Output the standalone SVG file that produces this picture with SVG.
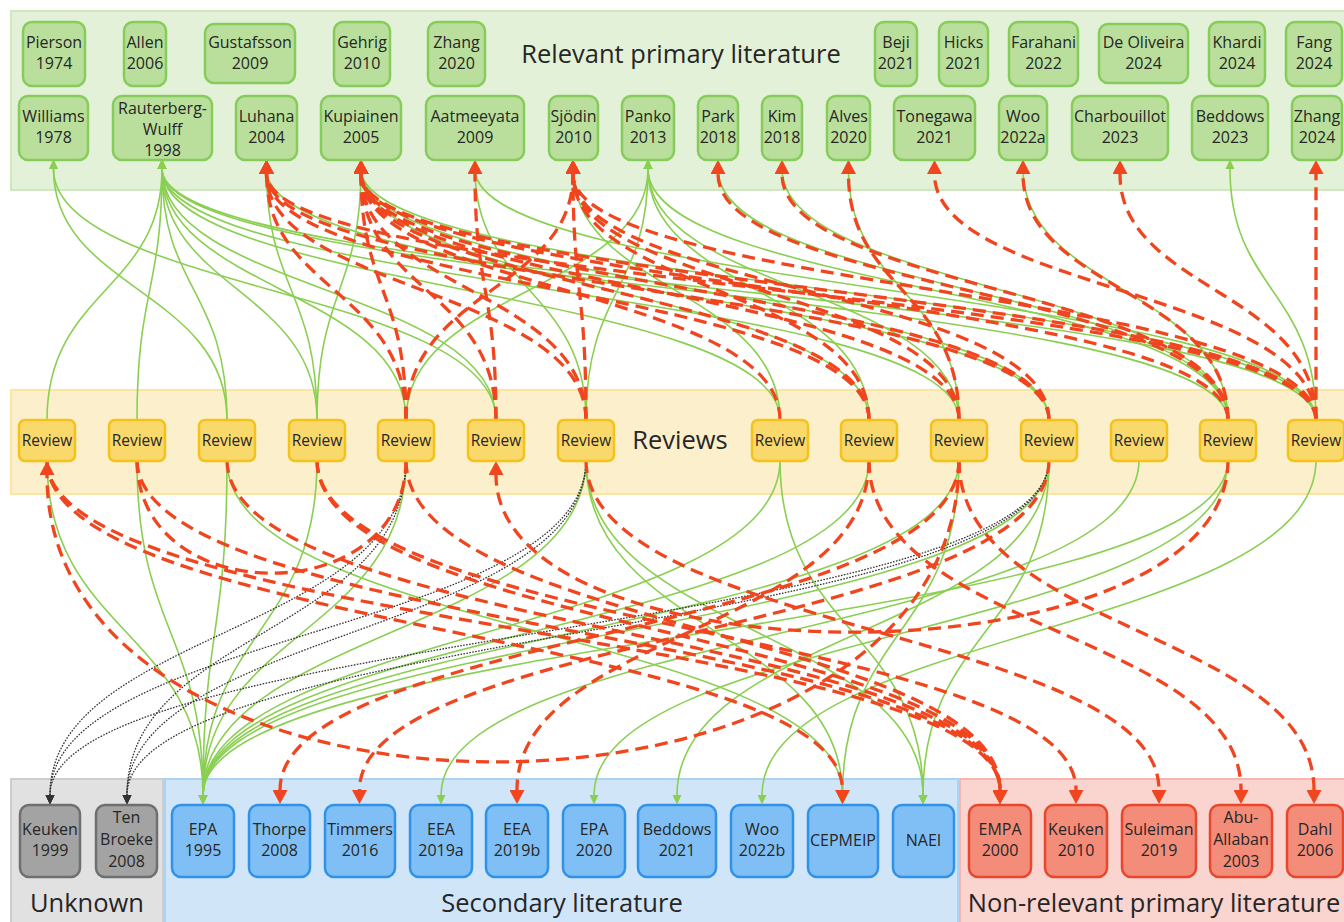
<svg xmlns="http://www.w3.org/2000/svg" width="1344" height="922" viewBox="0 0 1344 922">
  <style>
    text { font-family: "Open Sans", "Noto Sans", "DejaVu Sans", sans-serif; fill: #262626; text-anchor: middle; }
    .lbl { font-size: 16px; }
    .rv { font-size: 15.5px; }
    .band-title { font-size: 25.5px; }
    .pri rect { fill: #badf9c; stroke: #86cc5a; stroke-width: 2.5; }
    .rev rect { fill: #fad96c; stroke: #f5c21a; stroke-width: 2.5; }
    .unk rect { fill: #a3a3a3; stroke: #6f6f6f; stroke-width: 2.5; }
    .sec rect { fill: #80bff5; stroke: #2f92e8; stroke-width: 2.5; }
    .non rect { fill: #f48c7a; stroke: #e9462c; stroke-width: 2.5; }
    .g { fill: none; stroke: #8acf52; stroke-width: 1.6; marker-end: url(#ag); }
    .r { fill: none; stroke: #f0451f; stroke-width: 3.3; stroke-dasharray: 13 7; marker-end: url(#ar); }
    .r0 { fill: none; stroke: #f0451f; stroke-width: 3.3; stroke-dasharray: 13 7; }
    .k { fill: none; stroke: #333333; stroke-width: 1.3; stroke-dasharray: 1.6 1.4; marker-end: url(#ak); }
  </style>
  <defs>
    <marker id="ag" viewBox="0 0 10 10" refX="0" refY="5" markerWidth="10" markerHeight="10" orient="auto" markerUnits="userSpaceOnUse">
      <path d="M0,0.5 L9.5,5 L0,9.5 z" fill="#8acf52"/>
    </marker>
    <marker id="ar" viewBox="0 0 14 15" refX="0" refY="7.5" markerWidth="14" markerHeight="15" orient="auto" markerUnits="userSpaceOnUse">
      <path d="M0,0 L14,7.5 L0,15 z" fill="#f0451f"/>
    </marker>
    <marker id="ak" viewBox="0 0 10 10" refX="0" refY="5" markerWidth="10" markerHeight="10" orient="auto" markerUnits="userSpaceOnUse">
      <path d="M0,0.5 L9.5,5 L0,9.5 z" fill="#333333"/>
    </marker>
  </defs>

  <rect width="1344" height="922" fill="#ffffff"/>

  <!-- swimlane bands -->
  <g id="bands">
    <rect x="11" y="11" width="1345" height="179" fill="#e3f1d8" stroke="#cfe7bf" stroke-width="2"/>
    <rect x="11" y="390" width="1345" height="104" fill="#fbf0cb" stroke="#fce5a0" stroke-width="2"/>
    <rect x="11" y="779" width="152" height="150" fill="#e1e1e1" stroke="#cdcdcd" stroke-width="2"/>
    <rect x="165" y="779" width="793" height="150" fill="#d0e5f8" stroke="#a9d2f4" stroke-width="2"/>
    <rect x="960" y="779" width="396" height="150" fill="#fad5d0" stroke="#f6b6ad" stroke-width="2"/>
    <text class="band-title" x="681" y="63" font-size="26.5">Relevant primary literature</text>
    <text class="band-title" x="680" y="449" font-size="26">Reviews</text>
    <text class="band-title" x="87" y="912">Unknown</text>
    <text class="band-title" x="562" y="912">Secondary literature</text>
    <text class="band-title" x="1154" y="912">Non-relevant primary literature</text>
  </g>

  <!-- citation links -->
  <g id="connectors">
    <!-- reviews to relevant primary literature: solid -->
    <path class="g" d="M47 420C47 290 162 290 162 169"/>
    <path class="g" d="M137 420C137 290 162 290 162 169"/>
    <path class="g" d="M227 420C227 290 53.5 290 53.5 169"/>
    <path class="g" d="M227 420C227 290 162 290 162 169"/>
    <path class="g" d="M317 420C317 290 162 290 162 169"/>
    <path class="g" d="M317 420C317 290 266.5 290 266.5 169"/>
    <path class="g" d="M317 420C317 290 361 290 361 169"/>
    <path class="g" d="M406 420C406 290 162 290 162 169"/>
    <path class="g" d="M406 420C406 290 648 290 648 169"/>
    <path class="g" d="M496 420C496 290 53.5 290 53.5 169"/>
    <path class="g" d="M496 420C496 290 162 290 162 169"/>
    <path class="g" d="M586 420C586 290 648 290 648 169"/>
    <path class="g" d="M586 420C586 290 475 290 475 169"/>
    <path class="g" d="M780 420C780 290 162 290 162 169"/>
    <path class="g" d="M780 420C780 290 573 290 573 169"/>
    <path class="g" d="M869 420C869 290 361 290 361 169"/>
    <path class="g" d="M869 420C869 290 648 290 648 169"/>
    <path class="g" d="M959 420C959 290 162 290 162 169"/>
    <path class="g" d="M959 420C959 290 648 290 648 169"/>
    <path class="g" d="M959 420C959 290 848.5 290 848.5 169"/>
    <path class="g" d="M1049 420C1049 290 361 290 361 169"/>
    <path class="g" d="M1049 420C1049 290 266.5 290 266.5 169"/>
    <path class="g" d="M1228 420C1228 290 1023 290 1023 169"/>
    <path class="g" d="M1228 420C1228 290 162 290 162 169"/>
    <path class="g" d="M1228 420C1228 290 648 290 648 169"/>
    <path class="g" d="M1228 420C1228 290 718 290 718 169"/>
    <path class="g" d="M1228 420C1228 290 782 290 782 169"/>
    <path class="g" d="M1316 420C1316 290 1230 290 1230 169"/>
    <path class="g" d="M1316 420C1316 290 361 290 361 169"/>
    <path class="g" d="M1316 420C1316 290 162 290 162 169"/>
    <path class="g" d="M1316 420C1316 290 475 290 475 169"/>

    <!-- reviews to secondary / primary literature below: solid -->
    <path class="g" d="M47 460C47 632 203 632 203 795"/>
    <path class="g" d="M137 460C137 632 203 632 203 795"/>
    <path class="g" d="M227 460C227 632 203 632 203 795"/>
    <path class="g" d="M317 460C317 632 203 632 203 795"/>
    <path class="g" d="M406 460C406 632 203 632 203 795"/>
    <path class="g" d="M586 460C586 632 203 632 203 795"/>
    <path class="g" d="M780 460C780 632 203 632 203 795"/>
    <path class="g" d="M869 460C869 632 203 632 203 795"/>
    <path class="g" d="M959 460C959 632 203 632 203 795"/>
    <path class="g" d="M1049 460C1049 632 203 632 203 795"/>
    <path class="g" d="M1228 460C1228 632 203 632 203 795"/>
    <path class="g" d="M1139 460C1139 632 441 632 441 795"/>
    <path class="g" d="M1228 460C1228 632 594 632 594 795"/>
    <path class="g" d="M1049 460C1049 632 677 632 677 795"/>
    <path class="g" d="M1316 460C1316 632 762 632 762 795"/>
    <path class="g" d="M586 460C586 632 842.5 632 842.5 795"/>
    <path class="g" d="M227 460C227 632 842.5 632 842.5 795"/>
    <path class="g" d="M959 460C959 632 842.5 632 842.5 795"/>
    <path class="g" d="M780 460C780 632 923 632 923 795"/>
    <path class="g" d="M586 460C586 632 923 632 923 795"/>
    <path class="g" d="M1049 460C1049 632 923 632 923 795"/>

    <!-- unknown relevance: dotted -->
    <path class="k" d="M406 460C406 632 50 632 50 795"/>
    <path class="k" d="M406 460C406 632 127 632 127 795"/>
    <path class="k" d="M586 460C586 632 127 632 127 795"/>
    <path class="k" d="M586 460C586 632 50 632 50 795"/>
    <path class="k" d="M1049 460C1049 632 50 632 50 795"/>
    <path class="k" d="M1049 460C1049 632 127 632 127 795"/>

    <!-- reviews to relevant primary literature: dashed -->
    <path class="r" d="M406 420C406 290 266.5 290 266.5 174"/>
    <path class="r" d="M406 420C406 290 361 290 361 174"/>
    <path class="r" d="M406 420C406 290 573 290 573 174"/>
    <path class="r" d="M496 420C496 290 361 290 361 174"/>
    <path class="r" d="M496 420C496 290 475 290 475 174"/>
    <path class="r" d="M586 420C586 290 361 290 361 174"/>
    <path class="r" d="M586 420C586 290 573 290 573 174"/>
    <path class="r" d="M586 420C586 290 266.5 290 266.5 174"/>
    <path class="r" d="M780 420C780 290 361 290 361 174"/>
    <path class="r" d="M869 420C869 290 266.5 290 266.5 174"/>
    <path class="r" d="M869 420C869 290 361 290 361 174"/>
    <path class="r" d="M869 420C869 290 573 290 573 174"/>
    <path class="r" d="M959 420C959 290 361 290 361 174"/>
    <path class="r" d="M959 420C959 290 573 290 573 174"/>
    <path class="r" d="M959 420C959 290 848.5 290 848.5 174"/>
    <path class="r" d="M1049 420C1049 290 266.5 290 266.5 174"/>
    <path class="r" d="M1049 420C1049 290 361 290 361 174"/>
    <path class="r" d="M1049 420C1049 290 573 290 573 174"/>
    <path class="r" d="M1228 420C1228 290 361 290 361 174"/>
    <path class="r" d="M1228 420C1228 290 1023 290 1023 174"/>
    <path class="r" d="M1228 420C1228 290 782 290 782 174"/>
    <path class="r" d="M1228 420C1228 290 718 290 718 174"/>
    <path class="r" d="M1316 420C1316 290 1316 290 1316 174"/>
    <path class="r" d="M1316 420C1316 290 1120 290 1120 174"/>
    <path class="r" d="M1316 420C1316 290 934.5 290 934.5 174"/>
    <path class="r" d="M1316 420C1316 290 266.5 290 266.5 174"/>
    <path class="r" d="M1316 420C1316 290 361 290 361 174"/>
    <path class="r" d="M1316 420C1316 290 573 290 573 174"/>

    <!-- reviews to literature below: dashed -->
    <path class="r" d="M959 460C959 632 280 632 280 790"/>
    <path class="r" d="M1049 460C1049 632 359.5 632 359.5 790"/>
    <path class="r" d="M869 460C869 632 517 632 517 790"/>
    <path class="r" d="M47 460C47 632 842.5 632 842.5 790"/>
    <path class="r" d="M47 460C47 632 1000 632 1000 790"/>
    <path class="r" d="M137 460C137 632 1000 632 1000 790"/>
    <path class="r" d="M227 460C227 632 1000 632 1000 790"/>
    <path class="r" d="M317 460C317 632 1000 632 1000 790"/>
    <path class="r" d="M406 460C406 632 1000 632 1000 790"/>
    <path class="r" d="M317 460C317 632 1076 632 1076 790"/>
    <path class="r" d="M586 460C586 632 1159 632 1159 790"/>
    <path class="r" d="M869 460C869 632 1241 632 1241 790"/>
    <path class="r" d="M959 460C959 632 1314 632 1314 790"/>

    <!-- review to review -->
    <path class="r" d="M959 460C959 860 47 860 47 475"/>
    <path class="r" d="M1228 460C1228 687 496 687 496 475"/>
    <path class="r0" d="M137 460C137 611 406 611 406 460"/>
  </g>

  <!-- relevant primary literature -->
  <g id="pierson1974" class="pri"><rect x="23" y="22" width="62" height="64" rx="9"/><text class="lbl" x="54" y="48">Pierson</text><text class="lbl" x="54" y="69">1974</text></g>
  <g id="allen2006" class="pri"><rect x="124" y="22" width="42" height="64" rx="9"/><text class="lbl" x="145" y="48">Allen</text><text class="lbl" x="145" y="69">2006</text></g>
  <g id="gustafsson2009" class="pri"><rect x="205" y="24" width="90" height="59" rx="9"/><text class="lbl" x="250" y="48">Gustafsson</text><text class="lbl" x="250" y="69">2009</text></g>
  <g id="gehrig2010" class="pri"><rect x="334" y="22" width="56" height="64" rx="9"/><text class="lbl" x="362" y="48">Gehrig</text><text class="lbl" x="362" y="69">2010</text></g>
  <g id="zhang2020" class="pri"><rect x="428" y="22" width="57" height="64" rx="9"/><text class="lbl" x="456.5" y="48">Zhang</text><text class="lbl" x="456.5" y="69">2020</text></g>
  <g id="beji2021" class="pri"><rect x="875" y="22" width="42" height="64" rx="9"/><text class="lbl" x="896" y="48">Beji</text><text class="lbl" x="896" y="69">2021</text></g>
  <g id="hicks2021" class="pri"><rect x="939" y="22" width="49" height="64" rx="9"/><text class="lbl" x="963.5" y="48">Hicks</text><text class="lbl" x="963.5" y="69">2021</text></g>
  <g id="farahani2022" class="pri"><rect x="1009" y="22" width="69" height="64" rx="9"/><text class="lbl" x="1043.5" y="48">Farahani</text><text class="lbl" x="1043.5" y="69">2022</text></g>
  <g id="deoliveira2024" class="pri"><rect x="1099" y="24" width="89" height="59" rx="9"/><text class="lbl" x="1143.5" y="48">De Oliveira</text><text class="lbl" x="1143.5" y="69">2024</text></g>
  <g id="khardi2024" class="pri"><rect x="1209" y="22" width="56" height="64" rx="9"/><text class="lbl" x="1237" y="48">Khardi</text><text class="lbl" x="1237" y="69">2024</text></g>
  <g id="fang2024" class="pri"><rect x="1286" y="22" width="56" height="64" rx="9"/><text class="lbl" x="1314" y="48">Fang</text><text class="lbl" x="1314" y="69">2024</text></g>

  <g id="williams1978" class="pri"><rect x="19" y="96" width="69" height="64" rx="9"/><text class="lbl" x="53.5" y="122">Williams</text><text class="lbl" x="53.5" y="143">1978</text></g>
  <g id="rauterbergwulff1998" class="pri"><rect x="113" y="96" width="99" height="64" rx="9"/><text class="lbl" x="162.5" y="114">Rauterberg-</text><text class="lbl" x="162.5" y="135">Wulff</text><text class="lbl" x="162.5" y="156">1998</text></g>
  <g id="luhana2004" class="pri"><rect x="236" y="96" width="61" height="64" rx="9"/><text class="lbl" x="266.5" y="122">Luhana</text><text class="lbl" x="266.5" y="143">2004</text></g>
  <g id="kupiainen2005" class="pri"><rect x="321" y="96" width="80" height="64" rx="9"/><text class="lbl" x="361" y="122">Kupiainen</text><text class="lbl" x="361" y="143">2005</text></g>
  <g id="aatmeeyata2009" class="pri"><rect x="426" y="96" width="98" height="64" rx="9"/><text class="lbl" x="475" y="122">Aatmeeyata</text><text class="lbl" x="475" y="143">2009</text></g>
  <g id="sjodin2010" class="pri"><rect x="549" y="96" width="49" height="64" rx="9"/><text class="lbl" x="573.5" y="122">Sjödin</text><text class="lbl" x="573.5" y="143">2010</text></g>
  <g id="panko2013" class="pri"><rect x="622" y="96" width="52" height="64" rx="9"/><text class="lbl" x="648" y="122">Panko</text><text class="lbl" x="648" y="143">2013</text></g>
  <g id="park2018" class="pri"><rect x="698" y="96" width="40" height="64" rx="9"/><text class="lbl" x="718" y="122">Park</text><text class="lbl" x="718" y="143">2018</text></g>
  <g id="kim2018" class="pri"><rect x="762" y="96" width="40" height="64" rx="9"/><text class="lbl" x="782" y="122">Kim</text><text class="lbl" x="782" y="143">2018</text></g>
  <g id="alves2020" class="pri"><rect x="827" y="96" width="43" height="64" rx="9"/><text class="lbl" x="848.5" y="122">Alves</text><text class="lbl" x="848.5" y="143">2020</text></g>
  <g id="tonegawa2021" class="pri"><rect x="894" y="96" width="81" height="64" rx="9"/><text class="lbl" x="934.5" y="122">Tonegawa</text><text class="lbl" x="934.5" y="143">2021</text></g>
  <g id="woo2022a" class="pri"><rect x="999" y="96" width="48" height="64" rx="9"/><text class="lbl" x="1023" y="122">Woo</text><text class="lbl" x="1023" y="143">2022a</text></g>
  <g id="charbouillot2023" class="pri"><rect x="1072" y="96" width="96" height="64" rx="9"/><text class="lbl" x="1120" y="122">Charbouillot</text><text class="lbl" x="1120" y="143">2023</text></g>
  <g id="beddows2023" class="pri"><rect x="1192" y="96" width="76" height="64" rx="9"/><text class="lbl" x="1230" y="122">Beddows</text><text class="lbl" x="1230" y="143">2023</text></g>
  <g id="zhang2024" class="pri"><rect x="1292" y="96" width="50" height="64" rx="9"/><text class="lbl" x="1317" y="122">Zhang</text><text class="lbl" x="1317" y="143">2024</text></g>

  <!-- reviews -->
  <g id="review01" class="rev"><rect x="19" y="420" width="56" height="41" rx="6"/><text class="rv" x="47" y="446">Review</text></g>
  <g id="review02" class="rev"><rect x="109" y="420" width="56" height="41" rx="6"/><text class="rv" x="137" y="446">Review</text></g>
  <g id="review03" class="rev"><rect x="199" y="420" width="56" height="41" rx="6"/><text class="rv" x="227" y="446">Review</text></g>
  <g id="review04" class="rev"><rect x="289" y="420" width="56" height="41" rx="6"/><text class="rv" x="317" y="446">Review</text></g>
  <g id="review05" class="rev"><rect x="378" y="420" width="56" height="41" rx="6"/><text class="rv" x="406" y="446">Review</text></g>
  <g id="review06" class="rev"><rect x="468" y="420" width="56" height="41" rx="6"/><text class="rv" x="496" y="446">Review</text></g>
  <g id="review07" class="rev"><rect x="558" y="420" width="56" height="41" rx="6"/><text class="rv" x="586" y="446">Review</text></g>
  <g id="review08" class="rev"><rect x="752" y="420" width="56" height="41" rx="6"/><text class="rv" x="780" y="446">Review</text></g>
  <g id="review09" class="rev"><rect x="841" y="420" width="56" height="41" rx="6"/><text class="rv" x="869" y="446">Review</text></g>
  <g id="review10" class="rev"><rect x="931" y="420" width="56" height="41" rx="6"/><text class="rv" x="959" y="446">Review</text></g>
  <g id="review11" class="rev"><rect x="1021" y="420" width="56" height="41" rx="6"/><text class="rv" x="1049" y="446">Review</text></g>
  <g id="review12" class="rev"><rect x="1111" y="420" width="56" height="41" rx="6"/><text class="rv" x="1139" y="446">Review</text></g>
  <g id="review13" class="rev"><rect x="1200" y="420" width="56" height="41" rx="6"/><text class="rv" x="1228" y="446">Review</text></g>
  <g id="review14" class="rev"><rect x="1288" y="420" width="56" height="41" rx="6"/><text class="rv" x="1316" y="446">Review</text></g>

  <!-- unknown -->
  <g id="keuken1999" class="unk"><rect x="20" y="805" width="60" height="72" rx="9"/><text class="lbl" x="50" y="835">Keuken</text><text class="lbl" x="50" y="856">1999</text></g>
  <g id="tenbroeke2008" class="unk"><rect x="96" y="805" width="61" height="72" rx="9"/><text class="lbl" x="126.5" y="823">Ten</text><text class="lbl" x="126.5" y="845">Broeke</text><text class="lbl" x="126.5" y="867">2008</text></g>

  <!-- secondary literature -->
  <g id="epa1995" class="sec"><rect x="172" y="805" width="62" height="72" rx="9"/><text class="lbl" x="203" y="835">EPA</text><text class="lbl" x="203" y="856">1995</text></g>
  <g id="thorpe2008" class="sec"><rect x="249" y="805" width="61" height="72" rx="9"/><text class="lbl" x="279.5" y="835">Thorpe</text><text class="lbl" x="279.5" y="856">2008</text></g>
  <g id="timmers2016" class="sec"><rect x="325" y="805" width="70" height="72" rx="9"/><text class="lbl" x="360" y="835">Timmers</text><text class="lbl" x="360" y="856">2016</text></g>
  <g id="eea2019a" class="sec"><rect x="410" y="805" width="62" height="72" rx="9"/><text class="lbl" x="441" y="835">EEA</text><text class="lbl" x="441" y="856">2019a</text></g>
  <g id="eea2019b" class="sec"><rect x="486" y="805" width="62" height="72" rx="9"/><text class="lbl" x="517" y="835">EEA</text><text class="lbl" x="517" y="856">2019b</text></g>
  <g id="epa2020" class="sec"><rect x="563" y="805" width="62" height="72" rx="9"/><text class="lbl" x="594" y="835">EPA</text><text class="lbl" x="594" y="856">2020</text></g>
  <g id="beddows2021" class="sec"><rect x="638" y="805" width="78" height="72" rx="9"/><text class="lbl" x="677" y="835">Beddows</text><text class="lbl" x="677" y="856">2021</text></g>
  <g id="woo2022b" class="sec"><rect x="731" y="805" width="62" height="72" rx="9"/><text class="lbl" x="762" y="835">Woo</text><text class="lbl" x="762" y="856">2022b</text></g>
  <g id="cepmeip" class="sec"><rect x="808" y="805" width="70" height="72" rx="9"/><text class="lbl" x="843" y="846">CEPMEIP</text></g>
  <g id="naei" class="sec"><rect x="893" y="805" width="61" height="72" rx="9"/><text class="lbl" x="923.5" y="846">NAEI</text></g>

  <!-- non-relevant primary literature -->
  <g id="empa2000" class="non"><rect x="969" y="805" width="62" height="72" rx="9"/><text class="lbl" x="1000" y="835">EMPA</text><text class="lbl" x="1000" y="856">2000</text></g>
  <g id="keuken2010" class="non"><rect x="1045" y="805" width="62" height="72" rx="9"/><text class="lbl" x="1076" y="835">Keuken</text><text class="lbl" x="1076" y="856">2010</text></g>
  <g id="suleiman2019" class="non"><rect x="1122" y="805" width="74" height="72" rx="9"/><text class="lbl" x="1159" y="835">Suleiman</text><text class="lbl" x="1159" y="856">2019</text></g>
  <g id="abuallaban2003" class="non"><rect x="1210" y="805" width="62" height="72" rx="9"/><text class="lbl" x="1241" y="823">Abu-</text><text class="lbl" x="1241" y="845">Allaban</text><text class="lbl" x="1241" y="867">2003</text></g>
  <g id="dahl2006" class="non"><rect x="1287" y="805" width="56" height="72" rx="9"/><text class="lbl" x="1315" y="835">Dahl</text><text class="lbl" x="1315" y="856">2006</text></g>
</svg>
